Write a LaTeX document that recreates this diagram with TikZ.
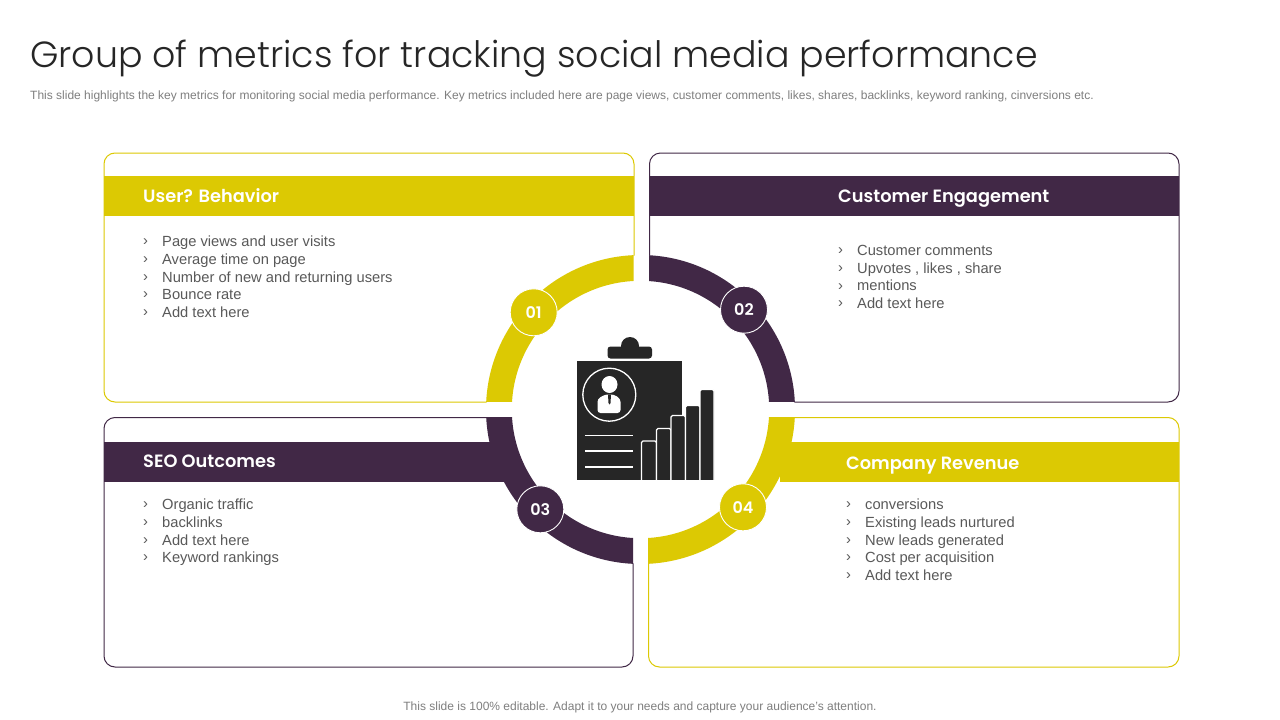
\documentclass[tikz,border=0pt]{standalone}
\usepackage{fontspec}
\setmainfont{Liberation Sans}
\newfontfamily\gothiclight{Poppins Light}
\newfontfamily\gothicbold{Poppins SemiBold}
\definecolor{ylw}{HTML}{DCC903}
\definecolor{prp}{HTML}{412846}
\definecolor{ink}{HTML}{262626}
\definecolor{body}{HTML}{595959}
\definecolor{sub}{HTML}{7F7F7F}
\tikzset{
 x=1pt,y=-1pt,
 card/.style={rounded corners=11pt,line width=1pt,fill=white},
 head/.style={anchor=base west,inner sep=0,text=white,font=\gothicbold\fontsize{17.8}{20}\selectfont},
 items/.style={anchor=north west,inner sep=0,text=body,align=left,font=\fontsize{14.7}{17.6}\selectfont},
 marks/.style={anchor=north west,inner sep=0,text=body,align=left,font=\fontsize{14.7}{17.6}\selectfont},
 badge/.style={circle,minimum size=47pt,inner sep=0,draw=white,line width=0.9pt,text=white,font=\gothicbold\fontsize{16}{18}\selectfont},
 barbox/.style={fill=ink,draw=white,line width=1.2pt,rounded corners=1.5pt},
 rule/.style={draw=white,line width=1.3pt},
 ringfill/.style={even odd rule},
}
\begin{document}
\begin{tikzpicture}
\useasboundingbox (0,0) rectangle (1280,720);
\fill[white] (0,0) rectangle (1280,720);
% title
\node[anchor=base west,inner sep=0,text=ink] (title) at (30,67.5) {\gothiclight\fontsize{36.35}{42}\selectfont Group of metrics for tracking social media performance};
\node[anchor=west,inner sep=0,text=sub] (subtitle) at (30,96.2) {\fontsize{12}{14}\selectfont This slide highlights the key metrics for monitoring social media performance. Key metrics included here are page views, customer comments, likes, shares, backlinks, keyword ranking, cinversions etc.};
\node[anchor=center,inner sep=0,text=sub] (note) at (640,707.2) {\fontsize{12}{14}\selectfont This slide is 100\% editable. Adapt it to your needs and capture your audience's attention.};
% cards
\draw[card,draw=ylw] (104,153) rectangle (634,402);
\draw[card,draw=prp] (649.5,153) rectangle (1179,402);
\draw[card,draw=prp] (104,417.5) rectangle (633,667);
\draw[card,draw=ylw] (648.5,417.5) rectangle (1179,667);
% white disk hides the card edges behind the ring
\fill[white] (640.5,409.5) circle [radius=154];
% bands
\fill[ylw] (104,176) rectangle (634,216);
\fill[prp] (649.5,176) rectangle (1179,216);
\fill[prp] (104,442) rectangle (510,482);
\fill[ylw] (780,442) rectangle (1179,482);
\fill[white] (640.5,409.5) circle [radius=128.7];
% ring
\begin{scope}
\clip (480,250) rectangle (633.5,401.7);
\fill[ylw,ringfill] (640.5,409.5) circle [radius=154.5] (640.5,409.5) circle [radius=128.7];
\end{scope}
\begin{scope}
\clip (649,250) rectangle (800,401.7);
\fill[prp,ringfill] (640.5,409.5) circle [radius=154.5] (640.5,409.5) circle [radius=128.7];
\end{scope}
\begin{scope}
\clip (480,417.5) rectangle (633,570);
\fill[prp,ringfill] (640.5,409.5) circle [radius=154.5] (640.5,409.5) circle [radius=128.7];
\end{scope}
\begin{scope}
\clip (648,417.5) rectangle (800,570);
\fill[ylw,ringfill] (640.5,409.5) circle [radius=154.5] (640.5,409.5) circle [radius=128.7];
\end{scope}
% headings
\node[head] (h1) at (143,202.5) {User? Behavior};
\node[head] (h2) at (838,202.5) {Customer Engagement};
\node[head] (h3) at (143,467) {SEO Outcomes};
\node[head] (h4) at (846,469.5) {Company Revenue};
% lists
\node[marks] (m1) at (143,239) {›\\›\\›\\›\\›};
\node[items] (t1) at (162,236) {Page views and user visits\\Average time on page\\Number of new and returning users\\Bounce rate\\Add text here};
\node[marks] (m2) at (838,248) {›\\›\\›\\›};
\node[items] (t2) at (857,245) {Customer comments\\Upvotes , likes , share\\mentions\\Add text here};
\node[marks] (m3) at (143,502) {›\\›\\›\\›};
\node[items] (t3) at (162,499) {Organic traffic\\backlinks\\Add text here\\Keyword rankings};
\node[marks] (m4) at (846,502) {›\\›\\›\\›\\›};
\node[items] (t4) at (865,499) {conversions\\Existing leads nurtured\\New leads generated\\Cost per acquisition\\Add text here};
% badges
\node[badge,fill=ylw] (b1) at (533.7,312.3) {01};
\node[badge,fill=prp] (b2) at (744,309.7) {02};
\node[badge,fill=prp] (b3) at (540.3,509.3) {03};
\node[badge,fill=ylw] (b4) at (743,507.3) {04};
% icon
\fill[ink] (630,346) circle [radius=9];
\fill[ink,rounded corners=3pt] (607.5,358.5) -- (607.5,346.5) -- (652,346.5) -- (652,358.5) -- cycle;
\fill[ink] (577,360.5) rectangle (682,480);
\draw[draw=white,line width=1.3pt] (609.3,394.7) circle [radius=26.5];
\fill[white] (609.5,384.5) ellipse [x radius=8,y radius=8.5];
\fill[white,rounded corners=3pt] (597.5,413) -- (597.5,399) -- (605,394.5) -- (614,394.5) -- (620.5,399) -- (620.5,413) -- cycle;
\fill[ink] (608,394.5) -- (611,394.5) -- (610.5,403) -- (609.5,404.5) -- (608.5,403) -- cycle;
\draw[rule] (585,435.3) -- (633,435.3);
\draw[rule] (585,451) -- (633,451);
\draw[rule] (585,467) -- (633,467);
\draw[barbox] (641.5,481) -- (641.5,441) -- (656.5,441) -- (656.5,481);
\draw[barbox] (656.5,481) -- (656.5,428.5) -- (671,428.5) -- (671,481);
\draw[barbox] (671,481) -- (671,415.5) -- (685.5,415.5) -- (685.5,481);
\draw[barbox] (685.5,481) -- (685.5,405.5) -- (700,405.5) -- (700,481);
\draw[barbox] (700,481) -- (700,389.5) -- (714,389.5) -- (714,481);
\fill[white] (640,480.3) rectangle (716,483);
\end{tikzpicture}
\end{document}
